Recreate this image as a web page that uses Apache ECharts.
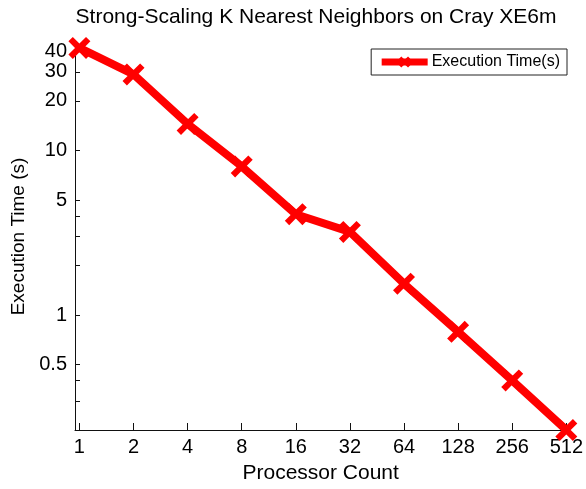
<!DOCTYPE html>
<html>
<head>
<meta charset="utf-8">
<script src="https://cdn.jsdelivr.net/npm/echarts@6/dist/echarts.min.js"></script>
<style>
  html, body { margin: 0; padding: 0; background: #fff; }
  #chart { width: 586px; height: 489px; }
</style>
</head>
<body>
<div id="chart"></div>
<script>
const processors = [1, 2, 4, 8, 16, 32, 64, 128, 256, 512];
const execTime = [42, 29, 14.5, 8.0, 4.1, 3.2, 1.55, 0.79, 0.4, 0.2];
const xTicks = [1, 2, 4, 8, 16, 32, 64, 128, 256, 512];
const yLabels = [0.5, 1, 5, 10, 20, 30, 40];
const yTicks = [0.3, 0.4, 0.5, 1, 2, 3, 4, 5, 10, 20, 30, 40];

const FONT = 'Liberation Sans';
// thick "x" marker like matlab's
const crossPath = 'path://M0,2 L2,0 L5,3 L8,0 L10,2 L7,5 L10,8 L8,10 L5,7 L2,10 L0,8 L3,5 Z';

const chart = echarts.init(document.getElementById('chart'));

const option = {
  animation: false,
  backgroundColor: '#fff',
  textStyle: { fontFamily: FONT, color: '#000' },
  title: {
    text: 'Strong-Scaling K Nearest Neighbors on Cray XE6m',
    left: 311,
    textAlign: 'center',
    top: 2,
    textStyle: { fontFamily: FONT, fontSize: 21, fontWeight: 'normal', color: '#000' },
  },
  legend: {
    right: 19,
    top: 49,
    padding: [5, 7],
    borderColor: '#222',
    borderWidth: 1,
    backgroundColor: '#fff',
    itemWidth: 46,
    itemHeight: 14,
    itemGap: 4,
    lineStyle: { width: 7 },
    textStyle: { fontFamily: FONT, fontSize: 16, color: '#000', padding: [0, 0, 0, -1] },
    data: ['Execution Time(s)'],
  },
  grid: { left: 75, right: 19, top: 43, bottom: 56, containLabel: false },
  xAxis: {
    type: 'log',
    logBase: 2,
    min: 0.945,
    max: 512,
    name: 'Processor Count',
    nameLocation: 'middle',
    nameGap: 33,
    nameTextStyle: { fontFamily: FONT, fontSize: 21, color: '#000' },
    axisLine: { show: true, lineStyle: { color: '#111', width: 1 } },
    axisTick: { show: true, inside: true, length: 7, customValues: xTicks, lineStyle: { color: '#111' } },
    axisLabel: { customValues: xTicks, fontFamily: FONT, fontSize: 20, color: '#000', margin: 7 },
    splitLine: { show: false },
    minorTick: { show: false },
  },
  yAxis: {
    type: 'log',
    logBase: 10,
    min: 0.2,
    max: 45,
    name: 'Execution Time (s)',
    nameLocation: 'middle',
    nameGap: 37,
    nameTextStyle: { fontFamily: FONT, fontSize: 19, color: '#000' },
    axisLine: { show: true, lineStyle: { color: '#111', width: 1 } },
    axisTick: { show: true, inside: true, length: 5, customValues: yTicks, lineStyle: { color: '#111' } },
    axisLabel: { customValues: yLabels, fontFamily: FONT, fontSize: 20, color: '#000', margin: 8 },
    splitLine: { show: false },
  },
  series: [
    {
      name: 'Execution Time(s)',
      type: 'line',
      clip: false,
      data: processors.map((p, i) => [p, execTime[i]]),
      symbol: crossPath,
      symbolSize: 22,
      itemStyle: { color: '#ff0000' },
      lineStyle: { color: '#ff0000', width: 8 },
    },
  ],
};

chart.setOption(option);
</script>
</body>
</html>
